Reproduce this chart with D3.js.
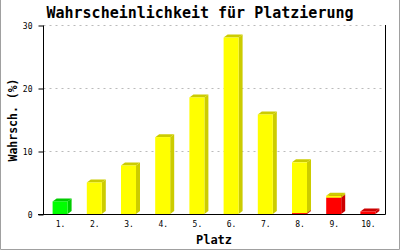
<!DOCTYPE html>
<html><head><meta charset="utf-8">
<script src="https://cdn.jsdelivr.net/npm/d3@7"></script>
<style>html,body{margin:0;padding:0;background:#fff}svg{display:block}</style>
</head><body>
<script>
const categories = ["1.","2.","3.","4.","5.","6.","7.","8.","9.","10."];
const green  = [2.0, 0, 0, 0, 0, 0, 0, 0, 0, 0];
const red    = [0, 0, 0, 0, 0, 0, 0, 0.15, 2.6, 0.4];
const yellow = [0, 5.0, 7.7, 12.2, 18.5, 28.0, 15.8, 8.05, 0.3, 0];
const yTicks = [0, 10, 20, 30];
const title = "Wahrscheinlichkeit für Platzierung";
const xTitle = "Platz";
const yTitle = "Wahrsch. (%)";

const W = 400, H = 250;
const svg = d3.select("body").append("svg").attr("width", W).attr("height", H);
const font = "'DejaVu Sans Mono', 'Liberation Mono', monospace";

const rows = categories.map((c, i) => ({cat: c, green: green[i], red: red[i], yellow: yellow[i]}));
const keys = ["green", "red", "yellow"];
const front = {green: "#00ff00", red: "#ff0000", yellow: "#ffff00"};
const dark  = {green: "#00cc00", red: "#cc0000", yellow: "#cccc00"};
const stack = d3.stack().keys(keys)(rows);

const x = d3.scaleBand().domain(categories).range([43.5, 385.5]);
const y = d3.scaleLinear().domain([0, 30]).range([214.5, 25.5]);

// border
svg.append("path").attr("d", `M0.5,0 V249.5 H399.5 V0`).attr("fill", "none").attr("stroke", "#a0a0a0");

// grid
svg.append("g").selectAll("line").data(yTicks.filter(d => d > 0)).join("line")
  .attr("x1", 43.5).attr("x2", 385.5)
  .attr("y1", d => Math.round(y(d) - 0.5) + 0.5).attr("y2", d => Math.round(y(d) - 0.5) + 0.5)
  .attr("stroke", "#bbbbbb").attr("stroke-dasharray", "2,4");

// bars
const bw = 15, dx = 4, dy = 3;
const gBars = svg.append("g");
categories.forEach((c, i) => {
  const xl = x(c) + x.bandwidth() / 2 - 8;
  stack.forEach(layer => {
    const [v0, v1] = layer[i];
    if (v1 - v0 <= 0) return;
    const yb = y(v0) - 0.5, yt = y(v1) - 0.5;
    const k = layer.key;
    gBars.append("polygon")
      .attr("points", [[xl + bw, yt], [xl + bw + dx, yt - dy], [xl + bw + dx, yb - dy], [xl + bw, yb]].join(" "))
      .attr("fill", dark[k]);
    gBars.append("polygon")
      .attr("points", [[xl, yt], [xl + dx, yt - dy], [xl + bw + dx, yt - dy], [xl + bw, yt]].join(" "))
      .attr("fill", dark[k]);
    gBars.append("rect").attr("x", xl).attr("y", yt).attr("width", bw).attr("height", yb - yt)
      .attr("fill", front[k]);
  });
});

// axes
const yAxis = d3.axisLeft(y).tickValues(yTicks).tickSize(5).tickPadding(6);
const gy = svg.append("g").attr("transform", "translate(43.5,0)").call(yAxis);
gy.select(".domain").attr("stroke", "#000").attr("d", "M0,25.5 V214.5");
gy.selectAll("text").attr("font-family", font).attr("font-size", 8).attr("fill", "#000");
gy.selectAll(".tick line").attr("stroke", "#000");

const xAxis = d3.axisBottom(x).tickSize(0).tickPadding(7);
const gx = svg.append("g").attr("transform", "translate(0,214.5)").call(xAxis);
gx.select(".domain").attr("stroke", "#000").attr("d", "M38,0 H385.5");
gx.selectAll("text").attr("font-family", font).attr("font-size", 8).attr("fill", "#000");

// right axis line
svg.append("line").attr("x1", 385.5).attr("x2", 385.5).attr("y1", 25).attr("y2", 214.5).attr("stroke", "#000");

// titles
svg.append("text").attr("x", 200).attr("y", 18).attr("text-anchor", "middle")
  .attr("font-family", font).attr("font-weight", "bold").attr("font-size", 15).text(title);
svg.append("text").attr("x", 214).attr("y", 244).attr("text-anchor", "middle")
  .attr("font-family", font).attr("font-weight", "bold").attr("font-size", 12).text(xTitle);
svg.append("text").attr("transform", "translate(17,120) rotate(-90)").attr("text-anchor", "middle")
  .attr("font-family", font).attr("font-weight", "bold").attr("font-size", 11.5).text(yTitle);
</script>
</body></html>
